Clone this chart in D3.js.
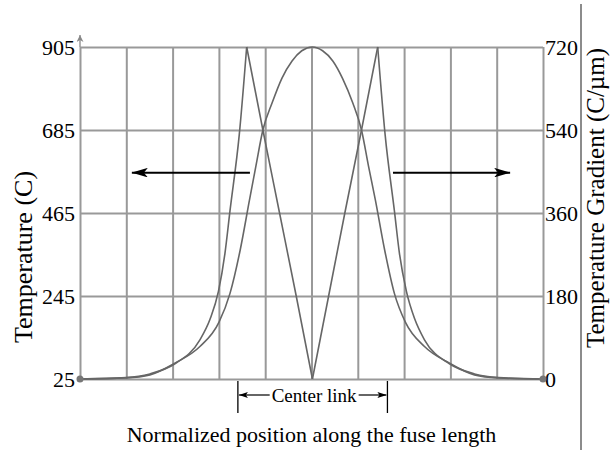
<!DOCTYPE html>
<html><head><meta charset="utf-8">
<script src="https://cdn.jsdelivr.net/npm/d3@7"></script>
<style>
html,body{margin:0;padding:0;background:#fff;}
svg{display:block;font-family:"Liberation Serif","Times New Roman",serif;}
</style></head><body>
<svg id="c" width="611" height="450"></svg>
<script>
// ---- data ----
const tempTicks = [25, 245, 465, 685, 905];
const gradTicks = [0, 180, 360, 540, 720];
const gridPositions = [0, 0.1, 0.2, 0.3, 0.4, 0.5, 0.6, 0.7, 0.8, 0.9, 1.0];
const tempPos = [0, 0.099, 0.151, 0.205, 0.259, 0.300, 0.324, 0.346, 0.366, 0.380, 0.395, 0.415, 0.436, 0.458, 0.479, 0.502,
                 0.524, 0.546, 0.567, 0.589, 0.608, 0.623, 0.638, 0.658, 0.679, 0.703, 0.744, 0.798, 0.852, 0.904, 1.0];
const tempVal = [25, 28, 36, 67, 111, 175, 252, 367, 499, 590, 685, 757, 822, 868, 895, 905,
                 895, 868, 822, 757, 685, 590, 499, 367, 252, 175, 111, 67, 36, 28, 25];
const gradPos = [0, 0.099, 0.151, 0.205, 0.259, 0.281, 0.299, 0.313, 0.324, 0.344, 0.360, 0.395, 0.431, 0.467, 0.502,
                 0.537, 0.572, 0.608, 0.643, 0.659, 0.679, 0.690, 0.705, 0.723, 0.744, 0.798, 0.852, 0.904, 1.0];
const gradVal = [0, 3, 11, 33, 85, 130, 190, 272, 365, 530, 720, 540, 360, 180, 0,
                 180, 360, 540, 720, 530, 365, 272, 190, 130, 85, 33, 11, 3, 0];
const xTitle = "Normalized position along the fuse length";
const yLeftTitle = "Temperature (C)";
const yRightTitle = "Temperature Gradient (C/µm)";
const centerLinkLabel = "Center link";
const centerLinkRange = [0.341, 0.664];
const leftArrow = [0.367, 0.112];   // from, to (position), at temperature arrowLevel
const rightArrow = [0.676, 0.929];
const arrowLevel = 572;

// ---- layout ----
const svg = d3.select("#c");
const L = 80, R = 543, T = 47, B = 379;
const x = d3.scaleLinear().domain([0, 1]).range([L, R]);
const yT = d3.scaleLinear().domain([25, 905]).range([B, T]);
const yG = d3.scaleLinear().domain([0, 720]).range([B, T]);

const defs = svg.append("defs");
function mk(id, len, half, notch, color) {
  defs.append("marker").attr("id", id).attr("viewBox", `0 ${-half} ${len} ${2*half}`)
    .attr("refX", len).attr("refY", 0).attr("markerUnits", "userSpaceOnUse")
    .attr("markerWidth", len).attr("markerHeight", 2*half).attr("orient", "auto")
    .append("path").attr("d", `M0,${-half}L${len},0L0,${half}L${notch},0Z`).attr("fill", color);
}
mk("bigArrow", 16, 4.8, 4, "#000");
mk("smallArrow", 9, 3, 2, "#000");
mk("axArrow", 7, 3.5, 2, "#888");

// vertical grid
const vg = svg.append("g").attr("transform", `translate(0,${B})`)
  .call(d3.axisBottom(x).tickValues(gridPositions).tickSize(-(B - T)).tickFormat(""));
vg.select(".domain").remove();
vg.selectAll("line").attr("stroke", "#999").attr("stroke-width", 2);

// horizontal grid
const hg = svg.append("g").attr("transform", `translate(${L},0)`)
  .call(d3.axisLeft(yT).tickValues(tempTicks).tickSize(-(R - L)).tickFormat(""));
hg.select(".domain").remove();
hg.selectAll("line").attr("stroke", "#999").attr("stroke-width", 2);

// y-axis top arrow
svg.append("line").attr("x1", L).attr("x2", L).attr("y1", T).attr("y2", T - 12)
  .attr("stroke", "#999").attr("stroke-width", 1.5).attr("marker-end", "url(#axArrow)");

// left labels
const la = svg.append("g").attr("transform", `translate(${L},0)`)
  .call(d3.axisLeft(yT).tickValues(tempTicks).tickSize(0).tickPadding(5));
la.select(".domain").remove();
la.selectAll("text").attr("font-size", 22).attr("font-family", "Liberation Serif").attr("fill", "#000");

// right labels
const ra = svg.append("g").attr("transform", `translate(${R},0)`)
  .call(d3.axisRight(yG).tickValues(gradTicks).tickSize(0).tickPadding(2));
ra.select(".domain").remove();
ra.selectAll("text").attr("font-size", 22).attr("font-family", "Liberation Serif").attr("fill", "#000");

// curves
const tempData = tempPos.map((p, i) => [p, tempVal[i]]);
const gradData = gradPos.map((p, i) => [p, gradVal[i]]);
const lineT = d3.line().x(d => x(d[0])).y(d => yT(d[1])).curve(d3.curveMonotoneX);
const lineG = d3.line().x(d => x(d[0])).y(d => yG(d[1])).curve(d3.curveMonotoneX);
svg.append("path").attr("d", lineT(tempData)).attr("fill", "none")
  .attr("stroke", "#666").attr("stroke-width", 1.6);
// split gradient at its local extrema so peaks stay sharp
const pieces = [];
let cur = [gradData[0]];
for (let i = 1; i < gradData.length; i++) {
  cur.push(gradData[i]);
  if (i < gradData.length - 1) {
    const a = gradData[i][1] - gradData[i - 1][1], b = gradData[i + 1][1] - gradData[i][1];
    if (a * b < 0) { pieces.push(cur); cur = [gradData[i]]; }
  }
}
pieces.push(cur);
pieces.forEach(pc => svg.append("path").attr("d", lineG(pc)).attr("fill", "none")
  .attr("stroke", "#666").attr("stroke-width", 1.6));

// end markers
[[0, 25], [1, 25]].forEach(d => svg.append("circle").attr("cx", x(d[0])).attr("cy", yT(d[1]))
  .attr("r", 3.5).attr("fill", "#777"));

// big arrows
[leftArrow, rightArrow].forEach(a => svg.append("line")
  .attr("x1", x(a[0])).attr("x2", x(a[1])).attr("y1", yT(arrowLevel)).attr("y2", yT(arrowLevel))
  .attr("stroke", "#000").attr("stroke-width", 2).attr("marker-end", "url(#bigArrow)"));

// center link annotation
const cx0 = x(centerLinkRange[0]), cx1 = x(centerLinkRange[1]);
const cy = 395;
[cx0, cx1].forEach(v => svg.append("line").attr("x1", v).attr("x2", v).attr("y1", B + 2).attr("y2", 413)
  .attr("stroke", "#000").attr("stroke-width", 1.3));
const ctext = svg.append("text").attr("x", (cx0 + cx1) / 2 + 1.5).attr("y", cy + 6.5)
  .attr("text-anchor", "middle").attr("font-size", 19).text(centerLinkLabel);
const tw = ctext.node().getComputedTextLength();
const tmid = (cx0 + cx1) / 2 + 1.5;
svg.append("line").attr("x1", tmid - tw / 2 - 2).attr("x2", cx0 + 1).attr("y1", cy).attr("y2", cy)
  .attr("stroke", "#000").attr("stroke-width", 1.2).attr("marker-end", "url(#smallArrow)");
svg.append("line").attr("x1", tmid + tw / 2 + 2).attr("x2", cx1 - 1).attr("y1", cy).attr("y2", cy)
  .attr("stroke", "#000").attr("stroke-width", 1.2).attr("marker-end", "url(#smallArrow)");

// titles
svg.append("text").attr("x", (L + R) / 2).attr("y", 442).attr("text-anchor", "middle")
  .attr("font-size", 22).text(xTitle);
svg.append("text").attr("transform", "translate(32,257) rotate(-90)").attr("text-anchor", "middle")
  .attr("font-size", 26).text(yLeftTitle);
svg.append("text").attr("transform", "translate(604,198) rotate(-90)").attr("text-anchor", "middle")
  .attr("font-size", 25).text(yRightTitle);

// right page rule
svg.append("line").attr("x1", 581).attr("x2", 581).attr("y1", 4).attr("y2", 450)
  .attr("stroke", "#666").attr("stroke-width", 1.5);
</script></body></html>
